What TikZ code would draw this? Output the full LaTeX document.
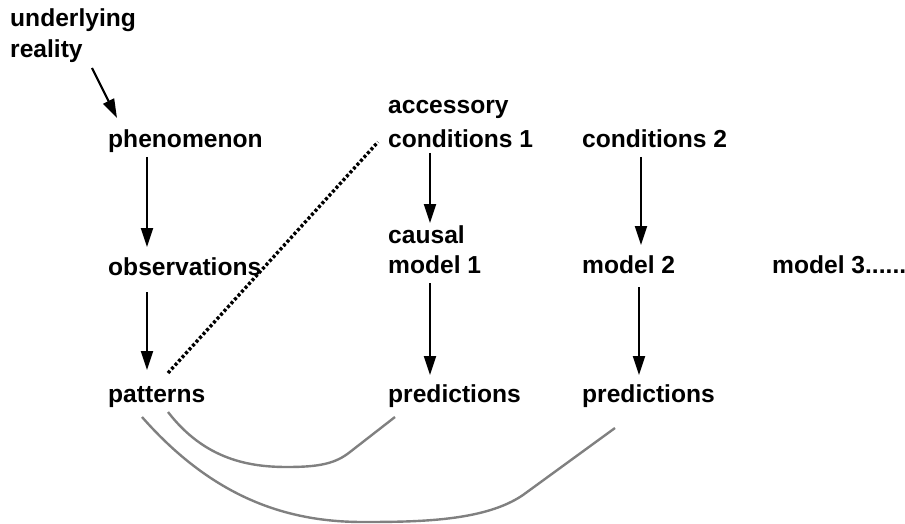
\documentclass[tikz,border=0pt]{standalone}
\usepackage{fontspec}
\setmainfont{Liberation Sans}
\usetikzlibrary{arrows.meta,calc}
\begin{document}
\begin{tikzpicture}[x=1pt,y=-1pt,
  lbl/.style={inner sep=0pt,anchor=base west,font=\fontsize{24.6}{30}\selectfont\bfseries},
  arr/.style={line width=2.2pt,-{Triangle[length=19pt,width=12pt]}},
  dash line/.style={line width=3.4pt,dash pattern=on 3pt off 2.2pt},
  link/.style={line width=2.4pt,draw=black!50}]
\useasboundingbox (0,0) rectangle (905,524);
\node[lbl] (ur) at (10,58) {\vbox{\baselineskip=31pt\hbox{underlying}\hbox{reality}}};
\node[lbl] (phen) at (108,147) {phenomenon};
\node[lbl] (obs) at (108,275) {observations};
\node[lbl] (pat) at (108,402) {patterns};
\node[lbl] (acc) at (388,147) {\vbox{\baselineskip=34pt\hbox{accessory}\hbox{conditions 1}}};
\node[lbl] (cond2) at (582,147) {conditions 2};
\node[lbl] (causal) at (388,243) {\vtop{\baselineskip=30pt\hbox{causal}\hbox{model 1}}};
\node[lbl] (model2) at (582,273) {model 2};
\node[lbl] (model3) at (772,273) {model 3......};
\node[lbl] (pred1) at (388,402) {predictions};
\node[lbl] (pred2) at (582,402) {predictions};

\draw[arr] ($(ur.base west)+(82,10)$) -- ($(phen.base west)+(9,-29)$);
\draw[arr] ($(phen.base west)+(39,10)$) -- ($(obs.base west)+(39,-28)$);
\draw[arr] ($(obs.base west)+(39,17)$) -- ($(pat.base west)+(39,-32)$);
\draw[arr] ($(acc.base west)+(42,6)$) -- ($(causal.base west)+(42,-20)$);
\draw[arr] ($(cond2.base west)+(59,10)$) -- ($(model2.base west)+(59,-28)$);
\draw[arr] ($(causal.base west)+(42,40)$) -- ($(pred1.base west)+(42,-27)$);
\draw[arr] ($(model2.base west)+(57,14)$) -- ($(pred2.base west)+(57,-27)$);

\draw[dash line] ($(pat.base west)+(60,-29)$) -- ($(acc.base west)+(-10,-5)$);

\draw[link] ($(pat.base west)+(60,10)$) .. controls (205,460) and (250,467) .. (287,467)
  .. controls (318,467) and (335,464) .. (350,452) -- ($(pred1.base west)+(7,15)$);
\draw[link] ($(pat.base west)+(34,15)$) .. controls (215,500) and (290,522) .. (363,522)
  .. controls (420,522) and (485,521) .. (523,495) -- ($(pred2.base west)+(33,26)$);
\end{tikzpicture}
\end{document}
